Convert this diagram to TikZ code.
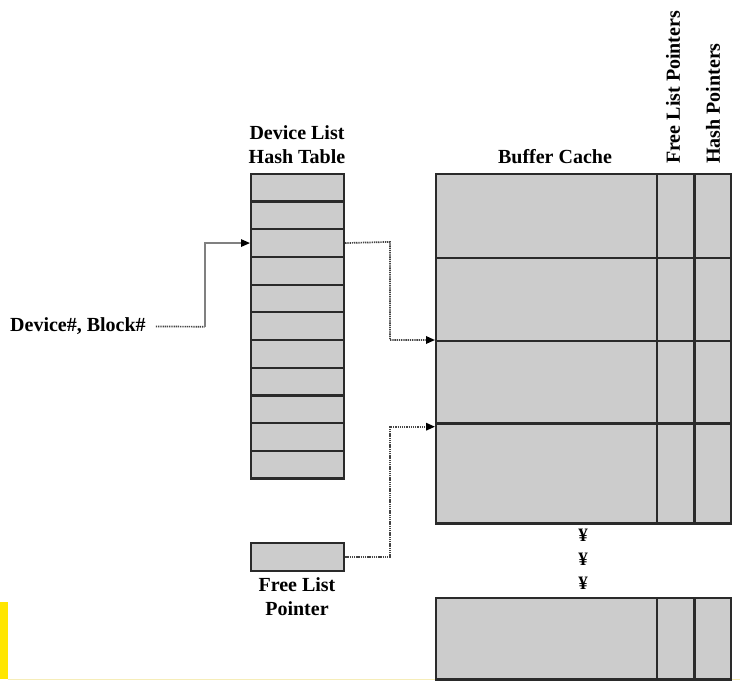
\documentclass[tikz,border=0pt]{standalone}
\usepackage{fontspec}
\setmainfont{Liberation Serif}
\usetikzlibrary{arrows.meta}
\definecolor{cellgray}{HTML}{CCCCCC}
\definecolor{edgegray}{HTML}{2A2A2A}
\definecolor{linkgray}{HTML}{444444}
\definecolor{markyellow}{HTML}{FFE600}
\definecolor{paleyellow}{HTML}{F6EDB8}
\begin{document}
\begin{tikzpicture}[x=1pt,y=-1pt,
  cell/.style={draw=edgegray, fill=cellgray, line width=2.2pt, inner sep=0pt, anchor=north west},
  lbl/.style={font=\bfseries\fontsize{20}{24}\selectfont, inner sep=0pt, align=center},
  dotlink/.style={draw=linkgray, line width=1.7pt, dash pattern=on 1.3pt off 0.9pt},
  solidlink/.style={draw=gray, line width=1.4pt},
  tip/.style={-{Triangle[length=9pt,width=7.5pt,color=black]}}
]
\useasboundingbox (0,0) rectangle (740,688);
\fill[white] (0,0) rectangle (740,688);

% yellow marker and faint line
\fill[markyellow] (0,601.5) rectangle (7.5,679);
\draw[paleyellow, line width=1pt] (7.5,679.5) -- (740,679.5);

% hash table
\foreach \i in {1,...,11}{
  \node[cell, minimum width=93pt, minimum height=27.7pt] (h\i) at (250,{172.7+(\i-1)*27.7}) {};
}

% buffer cache rows
\foreach \nm/\tp/\hh in {b1/172.7/84, b2/256.7/83.3, b3/340/82.3, b4/422.3/100, b5/596.7/81.6}{
  \node[cell, minimum width=221pt, minimum height=\hh pt] (\nm) at (435,\tp) {};
  \node[cell, minimum width=37.3pt, minimum height=\hh pt] (\nm f) at (656,\tp) {};
  \node[cell, minimum width=36.7pt, minimum height=\hh pt] (\nm h) at (693.3,\tp) {};
}

% free list pointer box
\node[cell, minimum width=93pt, minimum height=28.3pt] (fl) at (250,541.7) {};

% labels
\node[lbl] (dlt) at (297,145) {Device List\\Hash Table};
\node[lbl] (bct) at (555,157) {Buffer Cache};
\node[lbl, rotate=90, anchor=west] (flp) at (673,164) {Free List Pointers};
\node[lbl, rotate=90, anchor=west] (hp) at (713,164) {Hash Pointers};
\node[lbl] (flt) at (297,597) {Free List\\Pointer};
\node[lbl, anchor=west] (dev) at (10,326.5) {Device\#, Block\#};

% ellipsis marks
\node[lbl, font=\bfseries\fontsize{19}{22}\selectfont] (y1) at (583,535) {¥};
\node[lbl, font=\bfseries\fontsize{19}{22}\selectfont] (y2) at (583,559) {¥};
\node[lbl, font=\bfseries\fontsize{19}{22}\selectfont] (y3) at (583,583) {¥};

% connectors
\coordinate (k1) at (205,326.7);
\draw[dotlink] ([xshift=10pt]dev.east) -- (k1);
\draw[solidlink, tip] (k1) |- (h3.west);

\coordinate (k2) at (390,241.9);
\draw[dotlink, tip] (h3.east) -- (k2) |- (b3.north west);

\coordinate (k3) at (390,426.7);
\draw[dotlink, tip] (fl.east) -| (k3) -- (k3 -| b4.west);
\end{tikzpicture}
\end{document}
